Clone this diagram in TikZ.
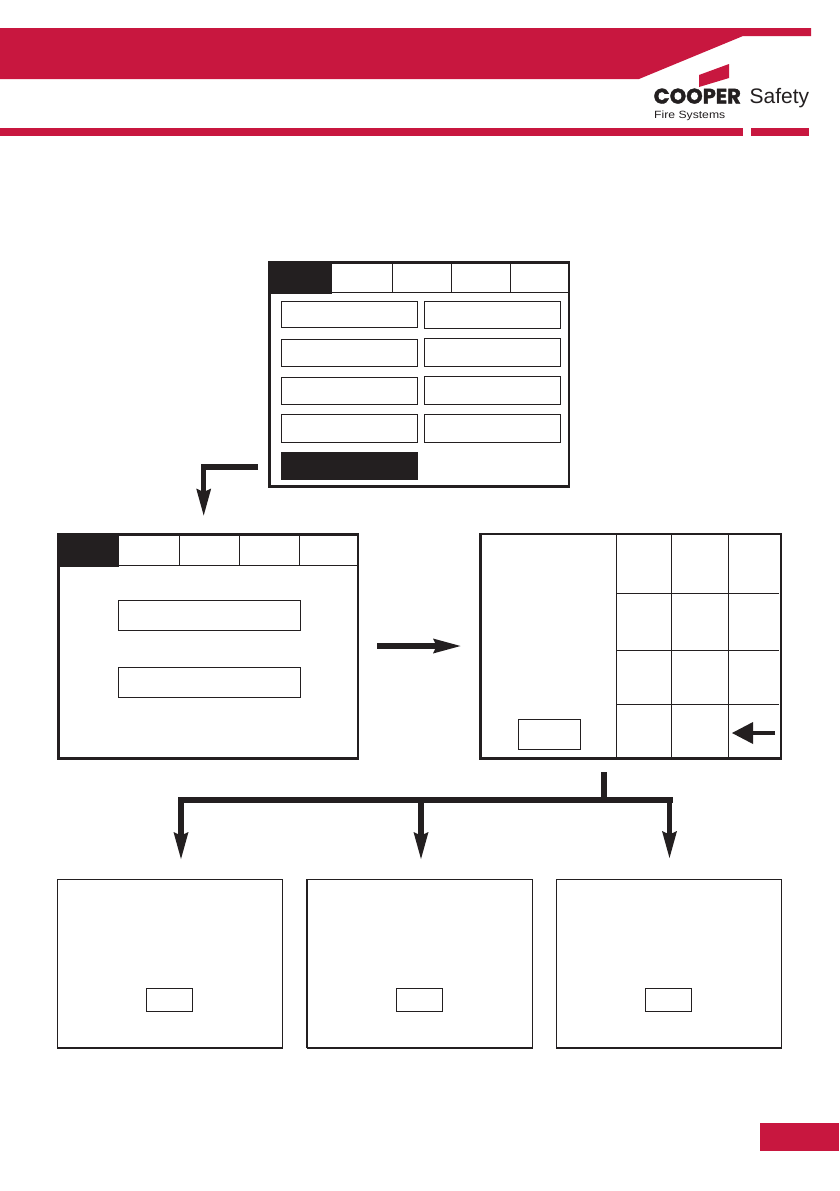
\documentclass[tikz,border=0pt]{standalone}
\usepackage{graphicx}
\usepackage{fontspec}
\setmainfont{Liberation Sans}
\newfontfamily\logofont[BoldFeatures={FakeBold=1.6}]{Poppins}
\definecolor{brand}{HTML}{C8173F}
\definecolor{ink}{HTML}{231F20}
\tikzset{
  panel/.style={draw=ink,line width=2.2pt,fill=white},
  thinpanel/.style={draw=ink,line width=1pt,fill=white},
  btn/.style={draw=ink,line width=1pt,fill=white},
  blackfill/.style={fill=ink,draw=none},
  grid line/.style={draw=ink,line width=1pt},
  flowline/.style={draw=ink,line width=5.5pt},
  head/.style={fill=ink,draw=none},
  brandfill/.style={fill=brand,draw=none},
  logotext/.style={anchor=base west,inner sep=0pt,text=ink},
}
\newcommand{\downhead}[2]{\fill[head] (#1,#2) -- (#1-7.5,#2-27) -- (#1,#2-23.5) -- (#1+7.5,#2-27) -- cycle;}
\begin{document}
\begin{tikzpicture}[x=1pt,y=-1pt]
\useasboundingbox (0,0) rectangle (839,1191);
\fill[white] (0,0) rectangle (839,1191);
% header
\fill[brandfill] (0,28) -- (811,28) -- (811,36) -- (743,36) -- (639,79) -- (0,79) -- cycle;
\fill[brandfill] (0,128) rectangle (743,136);
\fill[brandfill] (751,128) rectangle (809,136);
\fill[brandfill] (699,75) -- (729,64) -- (729,78) -- (699,87) -- cycle;
\node[logotext,font=\logofont\bfseries\fontsize{21}{21}\selectfont] (logoA) at (653.5,103.5) {COOPER};
\node[logotext,font=\fontsize{21}{21}\selectfont] (logoB) at (749.5,103.5) {Safety};
\node[logotext,font=\fontsize{10.5}{10.5}\selectfont] (logoC) at (654,118) {\scalebox{1.16}[1]{Fire Systems}};
\fill[brandfill] (760,1123) rectangle (839,1151);
% panel 1
\draw[panel] (269.5,262.5) rectangle (569,486.5);
\fill[blackfill] (268.5,261.5) rectangle (332,294);
\draw[grid line] (332,292.5) -- (569,292.5);
\foreach \x in {392.5,451.5,510.5} \draw[grid line] (\x,262.5) -- (\x,292.5);
\foreach \a/\b in {301/327.5,339/366.5,377/404.5,414/442.5} \draw[btn] (281.5,\a) rectangle (417.5,\b);
\foreach \a/\b in {301.5/328.5,338.5/366.5,376.5/404.5,414.5/442.5} \draw[btn] (424.5,\a) rectangle (560.5,\b);
\fill[blackfill] (281,452) rectangle (418,480);
% L arrow
\draw[flowline] (258,467) -- (203.7,467) -- (203.7,500);
\downhead{203.7}{515.5}
% panel 2
\draw[panel] (58.5,534.5) rectangle (358,758.5);
\fill[blackfill] (57.5,533.5) rectangle (119,567);
\draw[grid line] (119,565.5) -- (358,565.5);
\foreach \x in {179.5,239.5,299.5} \draw[grid line] (\x,534.5) -- (\x,565.5);
\draw[btn] (118.5,600.5) rectangle (300.5,630.5);
\draw[btn] (118.5,667) rectangle (300.5,697);
% right arrow
\draw[flowline] (377,646) -- (445,646);
\fill[head] (460.5,646) -- (433,638.5) -- (436.5,646) -- (433,653.5) -- cycle;
% panel 3
\draw[panel] (480.5,534) rectangle (781,758.5);
\foreach \x in {616.5,671.5,728.5} \draw[grid line] (\x,534) -- (\x,758.5);
\foreach \y in {593.5,650.5,704.5} \draw[grid line] (616.5,\y) -- (779,\y);
\draw[btn] (518.5,719.5) rectangle (580,749.5);
\draw[draw=ink,line width=4.5pt] (775,733) -- (750,733);
\fill[head] (732,733) -- (753,722) -- (753,744) -- cycle;
% branch
\draw[flowline] (603.8,772) -- (603.8,800);
\draw[draw=ink,line width=6pt] (178,800) -- (672.5,800);
\draw[flowline] (181,797) -- (181,844);
\downhead{181}{859}
\draw[flowline] (421,800) -- (421,844);
\downhead{421}{859}
\draw[flowline] (669.5,797) -- (669.5,843);
\downhead{669.5}{858}
% bottom panels
\foreach \l/\r/\bl/\br in {57.5/282.5/146.5/192.5,307/532/396.5/442.5,556.5/781.5/645.5/691.5}{
  \draw[thinpanel] (\l,879.5) rectangle (\r,1047.5);
  \draw[draw=ink,line width=2pt] (\l-.5,1047.5) -- (\r+.5,1047.5);
  \draw[btn] (\bl,988.5) rectangle (\br,1011.5);
}
\draw[draw=ink,line width=2pt] (307,879) -- (307,1048);
\end{tikzpicture}
\end{document}
